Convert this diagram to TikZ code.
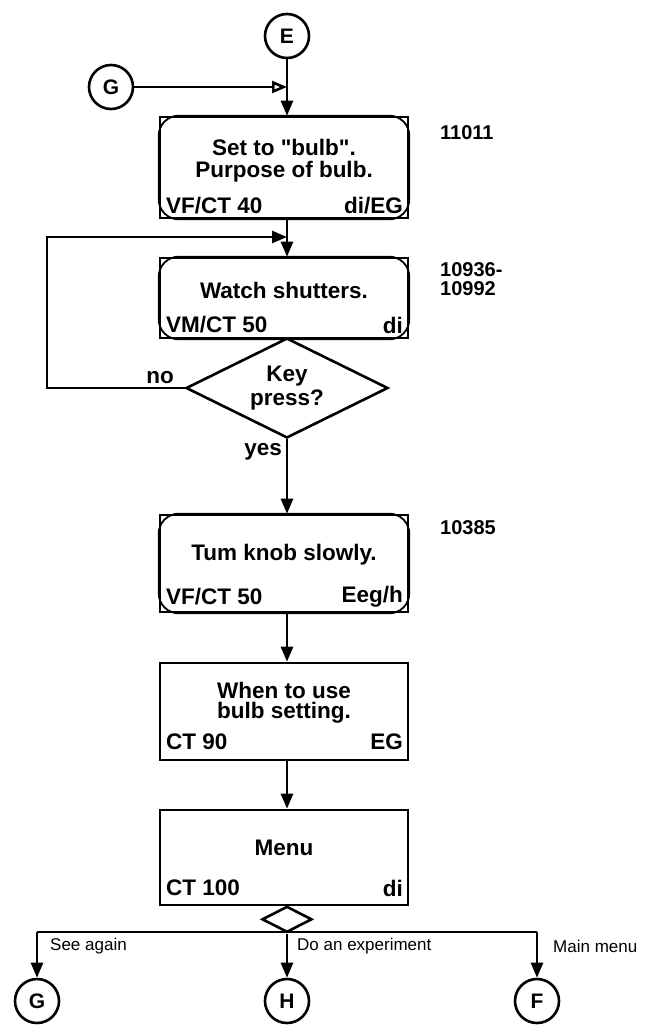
\documentclass[tikz,border=0pt]{standalone}
\usepackage{fontspec}
\setmainfont{Liberation Sans}[Ligatures=TeXOff]
\usetikzlibrary{arrows.meta,shapes.geometric}
\begin{document}
\begin{tikzpicture}[x=1pt,y=-1pt,
  ln/.style={line width=2.6pt},
  arr/.style={ln,-{Triangle[length=15pt,width=12pt]}},
  conn/.style={circle,draw,line width=2.6pt,minimum size=44pt,inner sep=0pt,font=\fontsize{21}{21}\selectfont\bfseries},
  txt/.style={inner sep=0pt,font=\fontsize{22.5}{22.5}\selectfont\bfseries},
  num/.style={inner sep=0pt,anchor=west,font=\fontsize{20}{20}\selectfont\bfseries},
  lab/.style={inner sep=0pt,anchor=west,font=\fontsize{17}{17}\selectfont},
  boxr/.style={draw,line width=2.6pt,minimum width=248pt,inner sep=0pt},
  inner/.style={line width=1.8pt,rounded corners=20pt},
]
\useasboundingbox (0,0) rectangle (647,1034);
% connectors circles
\node[conn] (E) at (287,36) {E};
\node[conn] (Gt) at (111,87) {G};
% box 1
\node[boxr,minimum height=101pt] (b1) at (284,167.5) {};
\draw[inner] (b1.south west) rectangle (b1.north east);
\node[txt] (b1a) at (284,147) {Set to "bulb".};
\node[txt] (b1b) at (284,172) {Purpose of bulb.};
\node[txt,anchor=west] (b1c) at (166,206) {VF/CT 40};
\node[txt,anchor=east] (b1d) at (403,206) {di/EG};
\node[num] (n1) at (440,133) {11011};
% box 2
\node[boxr,minimum height=80pt] (b2) at (284,298) {};
\draw[inner] (b2.south west) rectangle (b2.north east);
\node[txt] (b2a) at (284,290) {Watch shutters.};
\node[txt,anchor=west] (b2c) at (166,325) {VM/CT 50};
\node[txt,anchor=east] (b2d) at (403,325) {di};
\node[num] (n2a) at (440,270) {10936-};
\node[num] (n2b) at (440,289) {10992};
% diamond
\node[diamond,draw,line width=2.6pt,minimum width=202pt,minimum height=100pt,inner sep=0pt] (d1) at (287,388) {};
\node[txt] (d1a) at (287,376) {Key};
\node[txt] (d1b) at (287,400) {press?};
\node[txt,anchor=east] (no) at (174,378) {no};
\node[txt,anchor=east] (yes) at (282,452) {yes};
% box 3
\node[boxr,minimum height=97pt] (b3) at (284,563.5) {};
\draw[inner] (b3.south west) rectangle (b3.north east);
\node[txt] (b3a) at (284,555) {Tum knob slowly.};
\node[txt,anchor=west] (b3c) at (166,597) {VF/CT 50};
\node[txt,anchor=east] (b3d) at (403,597) {Eeg/h};
\node[num] (n3) at (440,528) {10385};
% box 4
\node[boxr,minimum height=97pt] (b4) at (284,711.5) {};
\node[txt] (b4a) at (284,690) {When to use};
\node[txt] (b4b) at (284,713) {bulb setting.};
\node[txt,anchor=west] (b4c) at (166,742) {CT 90};
\node[txt,anchor=east] (b4d) at (403,742) {EG};
% box 5
\node[boxr,minimum height=95pt] (b5) at (284,857.5) {};
\node[txt] (b5a) at (284,848) {Menu};
\node[txt,anchor=west] (b5c) at (166,888) {CT 100};
\node[txt,anchor=east] (b5d) at (403,888) {di};
% small diamond
\node[diamond,draw,line width=2.6pt,minimum width=50pt,minimum height=26pt,inner sep=0pt,anchor=north] (d2) at (287,905) {};
% bottom circles
\node[conn] (Gb) at (37,1001) {G};
\node[conn] (H) at (287,1001) {H};
\node[conn] (F) at (537,1001) {F};
% coordinates
\coordinate (jG) at (287,87);
\coordinate (jFB) at (287,237);
\coordinate (fbL) at (47,237);
\coordinate (fbD) at (47,388);
\coordinate (hL) at (37,932);
\coordinate (hR) at (537,932);
% connectors
\draw[ln] (E) -- (jG);
\draw[arr] (jG) -- (b1.north -| jG);
\draw[ln,-{Triangle[open,length=15pt,width=12pt]}] (Gt) -- (jG);
\draw[ln] (b1.south -| jG) -- (jFB);
\draw[arr] (jFB) -- (b2.north -| jG);
\draw[arr] (d1.west) -- (fbD) -- (fbL) -- (jFB);
\draw[arr] (d1.south) -- (b3.north -| d1.south);
\draw[arr] (b3.south -| d1.south) -- (b4.north -| d1.south);
\draw[arr] (b4.south -| d1.south) -- (b5.north -| d1.south);
\draw[ln] (hL) -- (hR);
\draw[arr] (hL) -- (Gb);
\draw[arr] (d2.south) -- (H);
\draw[arr] (hR) -- (F);
\node[lab] (l1) at (50,946) {See again};
\node[lab] (l2) at (297,946) {Do an experiment};
\node[lab] (l3) at (553,946) {Main menu};
\end{tikzpicture}
\end{document}
